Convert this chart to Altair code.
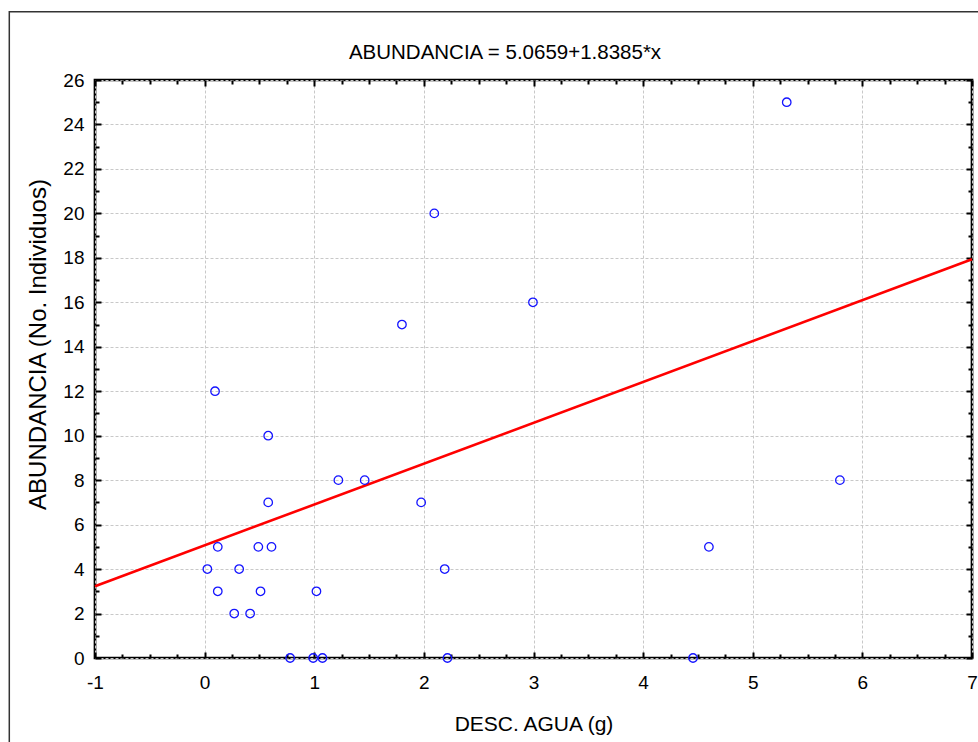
import altair as alt
import pandas as pd

# Water loss (g) and abundance (no. of individuals) per sample
desc_agua = [5.31, 2.095, 2.995, 1.80, 0.095, 0.58, 1.22, 1.46, 5.795, 1.975,
             0.58, 0.12, 0.49, 0.61, 4.60, 0.025, 0.315, 2.19, 0.12, 0.51,
             1.02, 0.27, 0.415, 0.78, 0.99, 1.075, 2.215, 4.455]
abundancia = [25, 20, 16, 15, 12, 10, 8, 8, 8, 7,
              7, 5, 5, 5, 5, 4, 4, 4, 3, 3,
              3, 2, 2, 0, 0, 0, 0, 0]

# Fitted linear regression
intercept = 5.0659
slope = 1.8385

x_domain = [-1, 7]
y_domain = [0, 26]
x_major = list(range(-1, 8))
x_minor = [-1 + 0.25 * i for i in range(33)]
y_major = list(range(0, 27, 2))
y_minor = list(range(0, 27))

W, H = 877, 578
FONT = "Liberation Sans"

pts = pd.DataFrame({"x": desc_agua, "y": abundancia})
fit = pd.DataFrame({"x": x_domain, "y": [intercept + slope * v for v in x_domain]})
title_text = f"ABUNDANCIA = {intercept}+{slope}*x"

xs = alt.Scale(domain=x_domain, nice=False, zero=False)
ys = alt.Scale(domain=y_domain, nice=False, zero=False)

tick_common = dict(labels=False, domain=False, grid=False, ticks=True,
                   tickColor="black", tickWidth=2, title=None)
x_tick_size = {"condition": {"test": "datum.value % 1 === 0", "value": 6}, "value": 4}
y_tick_size = {"condition": {"test": "datum.value % 2 === 0", "value": 6}, "value": 4}

# Axes carrying labels, titles and dashed grid
x_axis_main = alt.Axis(values=x_major, ticks=False, domain=False, grid=True,
                       gridColor="#c8c8c8", gridDash=[3, 2], gridWidth=1,
                       labelFont=FONT, labelFontSize=19, labelColor="black",
                       labelPadding=15, labelFlush=False,
                       labelExpr="'' + datum.value",
                       title="DESC. AGUA (g)", titleFont=FONT, titleFontSize=21,
                       titleFontWeight="normal", titleColor="black",
                       titleY=72, titleBaseline="alphabetic")
y_axis_main = alt.Axis(values=y_major, ticks=False, domain=False, grid=True,
                       gridColor="#c8c8c8", gridDash=[3, 2], gridWidth=1,
                       labelFont=FONT, labelFontSize=19, labelColor="black",
                       labelPadding=11, labelFlush=False,
                       title="ABUNDANCIA (No. Individuos)", titleFont=FONT,
                       titleFontSize=24, titleFontWeight="normal", titleColor="black",
                       titleAngle=270, titleX=-50, titleY=264,
                       titleAlign="center", titleBaseline="alphabetic")

# Inward-pointing ticks on all four sides of the plot box
x_axis_in_bottom = alt.Axis(orient="top", offset=-H, values=x_minor,
                            tickSize=x_tick_size, **tick_common)
y_axis_in_left = alt.Axis(orient="right", offset=-W, values=y_minor,
                          tickSize=y_tick_size, **tick_common)
x_axis_in_top = alt.Axis(orient="bottom", offset=-H, values=x_minor,
                         tickSize=x_tick_size, **tick_common)
y_axis_in_right = alt.Axis(orient="left", offset=-W, values=y_minor,
                           tickSize=y_tick_size, **tick_common)

frame = alt.Chart(pd.DataFrame({"k": [0]})).mark_rect(
    filled=False, stroke="#333333", strokeWidth=1.5
).encode(x=alt.value(-85.7), x2=alt.value(W + 150), y=alt.value(-68.3), y2=alt.value(H + 150))

title = alt.Chart(pd.DataFrame({"k": [0]})).mark_text(
    font=FONT, fontSize=20.5, color="black", align="center", baseline="alphabetic"
).encode(x=alt.value(410), y=alt.value(-21), text=alt.value(title_text))

line = alt.Chart(fit).mark_line(color="#ff0000", strokeWidth=2.6).encode(
    x=alt.X("x:Q", scale=xs, axis=x_axis_in_bottom),
    y=alt.Y("y:Q", scale=ys, axis=y_axis_in_left),
)

ghost = alt.Chart(fit).mark_point(opacity=0).encode(
    x=alt.X("x:Q", scale=xs, axis=x_axis_in_top),
    y=alt.Y("y:Q", scale=ys, axis=y_axis_in_right),
)

points = alt.Chart(pts).mark_point(
    shape="circle", filled=False, color="#1414ff", size=72, strokeWidth=1.3, opacity=1
).encode(
    x=alt.X("x:Q", scale=xs, axis=x_axis_main),
    y=alt.Y("y:Q", scale=ys, axis=y_axis_main),
)

chart = alt.layer(frame, title, ghost, line, points).resolve_axis(
    x="independent", y="independent"
).properties(
    width=W, height=H,
    autosize=alt.AutoSizeParams(type="none"),
    padding={"left": 95, "top": 80, "right": 6, "bottom": 84},
    background="white",
).configure_view(stroke="black", strokeWidth=2.7)

chart.save("out.html", embed_options={"renderer": "svg", "actions": False})
